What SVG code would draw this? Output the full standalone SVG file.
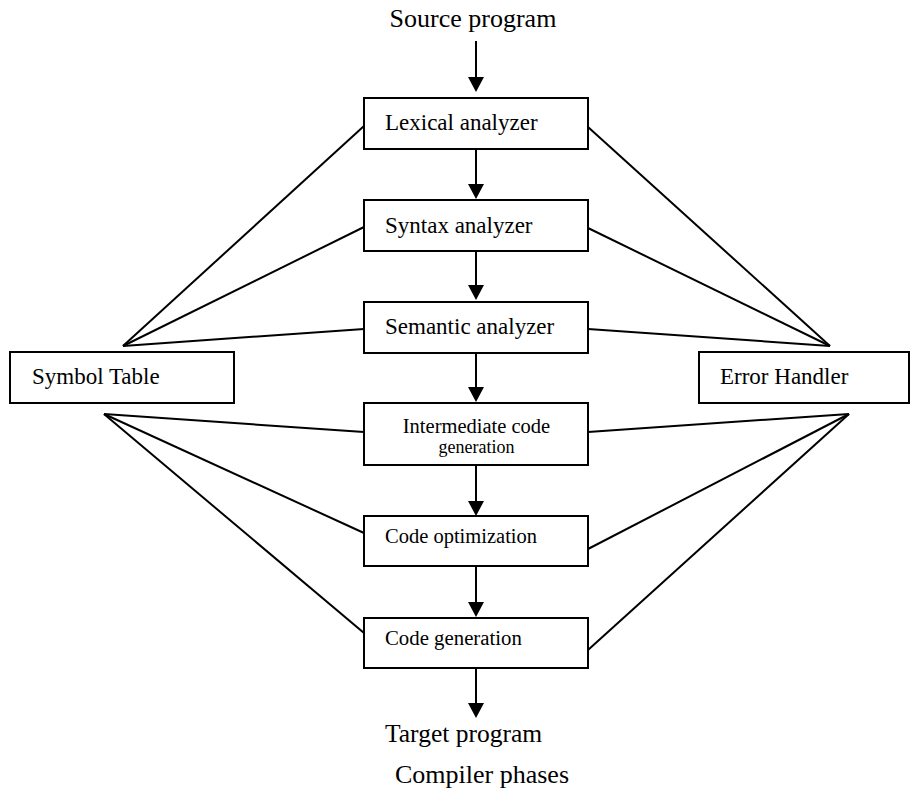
<svg xmlns="http://www.w3.org/2000/svg" width="911" height="791" viewBox="0 0 911 791">
<style>
.box{fill:#fff;stroke:#000;stroke-width:2}
.ln{stroke:#000;stroke-width:2;fill:none}
.hd{fill:#000}
text{font-family:"Liberation Serif","Times New Roman",serif;fill:#000}
.t{font-size:23px}
.big{font-size:26px}
</style>
<rect width="911" height="791" fill="#fff"/>
<g id="connectors">
<line class="ln" x1="476" y1="41" x2="476" y2="78"/>
<path class="hd" d="M468,77 L484,77 L476,92 Z"/>
<line class="ln" x1="476" y1="149" x2="476" y2="185"/>
<path class="hd" d="M468,184 L484,184 L476,199 Z"/>
<line class="ln" x1="476" y1="251" x2="476" y2="286"/>
<path class="hd" d="M468,285 L484,285 L476,300 Z"/>
<line class="ln" x1="476" y1="353" x2="476" y2="388"/>
<path class="hd" d="M468,387 L484,387 L476,402 Z"/>
<line class="ln" x1="476" y1="465" x2="476" y2="502"/>
<path class="hd" d="M468,501 L484,501 L476,516 Z"/>
<line class="ln" x1="476" y1="566" x2="476" y2="603"/>
<path class="hd" d="M468,602 L484,602 L476,617 Z"/>
<line class="ln" x1="476" y1="668" x2="476" y2="704"/>
<path class="hd" d="M468,703 L484,703 L476,718 Z"/>
<line class="ln" x1="123" y1="346" x2="364" y2="126"/>
<line class="ln" x1="123" y1="346" x2="364" y2="227"/>
<line class="ln" x1="123" y1="346" x2="364" y2="329"/>
<line class="ln" x1="830" y1="346" x2="588" y2="127"/>
<line class="ln" x1="830" y1="346" x2="588" y2="228"/>
<line class="ln" x1="830" y1="346" x2="588" y2="329"/>
<line class="ln" x1="104" y1="414" x2="364" y2="432"/>
<line class="ln" x1="104" y1="414" x2="364" y2="533"/>
<line class="ln" x1="104" y1="414" x2="364" y2="633"/>
<line class="ln" x1="849" y1="414" x2="588" y2="432"/>
<line class="ln" x1="849" y1="414" x2="588" y2="549"/>
<line class="ln" x1="849" y1="414" x2="588" y2="650"/>
</g>
<g id="source"><text class="big" x="473" y="27" text-anchor="middle">Source program</text></g>
<g id="lexical"><rect class="box" x="364" y="98" width="224" height="51"/><text class="t" x="385" y="130">Lexical analyzer</text></g>
<g id="syntax"><rect class="box" x="364" y="200" width="224" height="51"/><text class="t" x="385" y="233">Syntax analyzer</text></g>
<g id="semantic"><rect class="box" x="364" y="302" width="224" height="51"/><text class="t" x="385" y="334">Semantic analyzer</text></g>
<g id="intermediate"><rect class="box" x="364" y="403" width="224" height="62"/><text x="476.5" y="433" text-anchor="middle" font-size="20.5">Intermediate code</text><text x="476.5" y="453" text-anchor="middle" font-size="18">generation</text></g>
<g id="codeopt"><rect class="box" x="364" y="516" width="224" height="50"/><text x="385" y="543" font-size="20.5">Code optimization</text></g>
<g id="codegen"><rect class="box" x="364" y="618" width="224" height="50"/><text x="385" y="645" font-size="20.8">Code generation</text></g>
<g id="symtab"><rect class="box" x="10" y="352" width="224" height="51"/><text class="t" x="32" y="384">Symbol Table</text></g>
<g id="errhandler"><rect class="box" x="699" y="352" width="210" height="51"/><text class="t" x="720" y="384">Error Handler</text></g>
<g id="target"><text x="385" y="742" font-size="25.5">Target program</text></g>
<g id="caption"><text class="big" x="395" y="783">Compiler phases</text></g>
</svg>
